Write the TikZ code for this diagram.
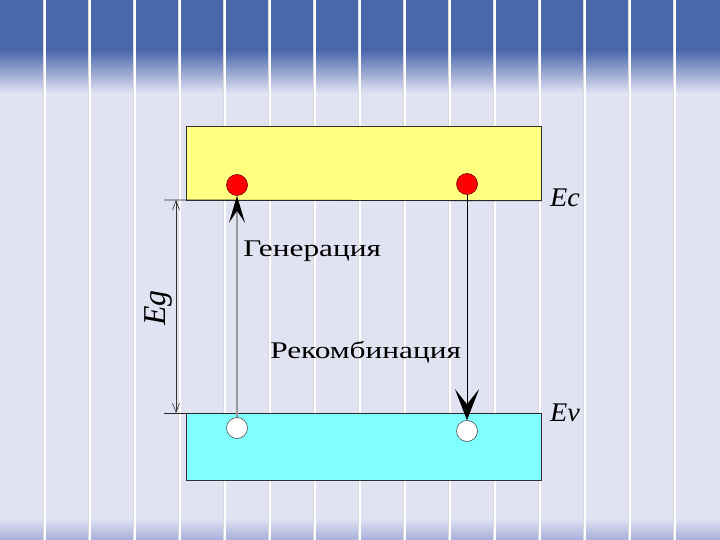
\documentclass[tikz,border=0pt]{standalone}
\usepackage{fontspec}
\setmainfont{Liberation Serif}
\usetikzlibrary{arrows.meta,positioning}
\definecolor{slidebg}{HTML}{E1E3F3}
\definecolor{slidetop}{HTML}{4A67AB}
\definecolor{slidebot}{HTML}{A7AFD9}
\definecolor{condband}{HTML}{FFFF80}
\definecolor{valband}{HTML}{80FFFF}
\tikzset{band/.style={draw=black!80, line width=0.8pt, minimum width=355bp, inner sep=0pt, anchor=north west},
elec/.style={circle, draw=red!45!black, fill=red, minimum size=21bp, inner sep=0pt, line width=0.6pt},
hole/.style={circle, draw=black!70, fill=white, minimum size=21bp, inner sep=0pt, line width=0.6pt},
level/.style={line width=0.8pt, black!85},
lbl/.style={font=\fontsize{24}{28}\selectfont, xscale=1.31, inner sep=0pt},
elbl/.style={font=\fontsize{27}{30}\selectfont\itshape, xscale=1.05, inner sep=0pt}}

\begin{document}
\begin{tikzpicture}[x=1bp, y=-1bp]

% slide background
\fill[slidebg] (0,0) rectangle (720,540);
\useasboundingbox (0,0) rectangle (720,540);
\fill[slidetop] (0,0) rectangle (720,50);
\shade[top color=slidetop, bottom color=slidebg] (0,50) rectangle (720,93);
\shade[top color=slidebg, bottom color=slidebot] (0,518) rectangle (720,540);
\foreach \x in {45,90,...,675} {
  \draw[black!15, line width=0.6bp] (\x-2,0) -- (\x-2,540);
  \draw[white, line width=1.1bp] (\x,0) -- (\x,540);
}

\node[band, fill=condband, minimum height=74bp] (cband) at (186,126) {};
\node[band, fill=valband, minimum height=67bp] (vband) at (186,413) {};

\coordinate (ecleft) at (164,200);
\coordinate (evleft) at (164,413);
\draw[level] (ecleft) -- (cband.south east);
\draw[level] (evleft) -- (vband.north east);

\coordinate (egtop) at (176,200);
\coordinate (egbot) at (176,413);
\draw[black!80, line width=0.6bp, {Straight Barb[length=9bp,width=7bp]}-{Straight Barb[length=9bp,width=7bp]}] (egtop) -- (egbot);
\node[font=\fontsize{32}{36}\selectfont\itshape, rotate=90, inner sep=0pt] (eg) at (158,308) {Eg};

\node[elec] (e1) at (237,185) {};
\node[elec] (e2) at (467,184) {};
\node[hole] (h1) at (237,428) {};
\node[hole] (h2) at (467,431) {};

\draw[black!40, line width=1.6bp, -{Stealth[black, length=27bp, width=16bp, inset=12bp]}] (h1) -- (e1);
\draw[black, line width=0.8bp, -{Stealth[length=31bp, width=24bp, inset=15bp]}] (e2) -- (h2);

\node[lbl, anchor=base west] (gen) at (243,257) {Генерация};
\node[lbl, anchor=base west] (rec) at (270,358) {Рекомбинация};
\node[elbl, anchor=base west] (ec) at (550,207) {Ec};
\node[elbl, anchor=base west] (ev) at (550,421) {Ev};

\end{tikzpicture}
\end{document}
